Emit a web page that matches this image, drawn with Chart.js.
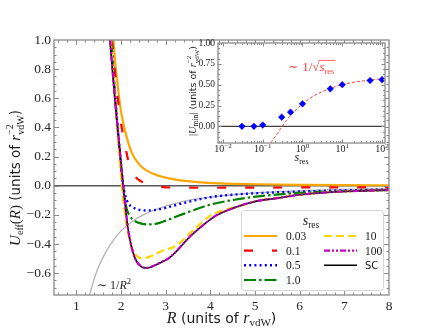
<!DOCTYPE html>
<html><head><meta charset="utf-8">
<script src="https://cdn.jsdelivr.net/npm/chart.js@4.4.0/dist/chart.umd.min.js"></script>
<style>
html,body{margin:0;padding:0;background:#fff;}
#wrap{position:relative;width:432px;height:332px;overflow:hidden;}
#main{position:absolute;left:0;top:0;}
#inset{position:absolute;left:180px;top:30px;}
</style></head><body>
<div id="wrap"><canvas id="main" width="432" height="332"></canvas><canvas id="inset" width="212" height="140"></canvas></div>
<script>
// ---------- main panel data (R in units of r_vdW, U_eff in units of r_vdW^-2) ----------
const rOrange = [1.83,1.87,1.93,1.98,2.05,2.13,2.25,2.4,2.5,2.6,2.75,2.9,3.25,3.7,4.2,5,6,7,8];
const uOrange = [1.0,0.85,0.68,0.55,0.43,0.33,0.22,0.15,0.12,0.1,0.078,0.063,0.04,0.025,0.016,0.01,0.006,0.004,0.003];
const rRed = [1.8,1.85,1.9,1.98,2.05,2.1,2.2,2.3,2.45,2.65,2.9,3.2,4,5,6,7,8];
const uRed = [1.0,0.83,0.68,0.47,0.34,0.26,0.13,0.07,0.03,0.005,-0.008,-0.013,-0.014,-0.013,-0.012,-0.011,-0.01];
const rBlue = [1.78,1.85,1.92,2.0,2.05,2.09,2.16,2.25,2.35,2.45,2.61,2.8,3.0,3.24,3.6,3.99,4.5,5,6,7,8];
const uBlue = [1.0,0.7,0.42,0.14,0.0,-0.063,-0.12,-0.145,-0.16,-0.167,-0.17,-0.165,-0.152,-0.132,-0.104,-0.079,-0.062,-0.052,-0.04,-0.032,-0.026];
const rGreen = [1.78,1.85,1.92,2.0,2.05,2.1,2.15,2.2,2.3,2.4,2.6,2.8,3.0,3.3,3.6,4.0,4.66,5.26,6,7,8];
const uGreen = [1.0,0.69,0.4,0.12,-0.02,-0.12,-0.18,-0.21,-0.24,-0.255,-0.265,-0.26,-0.24,-0.205,-0.17,-0.13,-0.09,-0.067,-0.049,-0.038,-0.031];
const rYellow = [1.77,1.85,1.93,2.0,2.05,2.1,2.16,2.25,2.35,2.45,2.55,2.7,2.9,3.24,3.6,4.0,4.3,4.6,5,5.5,6,6.75,7.5,8];
const uYellow = [1.0,0.66,0.33,0.06,-0.1,-0.22,-0.33,-0.43,-0.48,-0.497,-0.495,-0.48,-0.45,-0.41,-0.31,-0.205,-0.168,-0.145,-0.108,-0.084,-0.062,-0.043,-0.034,-0.029];
const rMagenta = [1.76,1.8,1.85,1.9,1.95,2.0,2.05,2.1,2.15,2.2,2.27,2.35,2.45,2.57,2.7,2.87,3.06,3.21,3.54,3.8,4.1,4.5,5,5.5,6,6.75,7.5,8];
const uMagenta = [1.0,0.83,0.65,0.48,0.32,0.16,0.0,-0.15,-0.28,-0.37,-0.46,-0.52,-0.553,-0.563,-0.553,-0.528,-0.498,-0.458,-0.35,-0.28,-0.21,-0.155,-0.108,-0.085,-0.062,-0.043,-0.034,-0.029];
const rSC = [1.75,1.8,1.85,1.9,1.95,2.0,2.05,2.1,2.15,2.2,2.27,2.35,2.45,2.57,2.7,2.87,3.06,3.21,3.54,3.8,4.1,4.5,5,5.5,6,6.75,7.5,8];
const uSC = [1.0,0.82,0.64,0.47,0.32,0.16,0.0,-0.15,-0.28,-0.37,-0.46,-0.52,-0.555,-0.565,-0.555,-0.53,-0.5,-0.46,-0.35,-0.28,-0.21,-0.155,-0.108,-0.085,-0.062,-0.043,-0.034,-0.029];
const rGray = [1.27,1.4,1.5,1.6,1.75,2.0,2.25,2.5,3.0,3.5,4.0,4.5,5,6,7,8];
const uGray = [-0.78,-0.64,-0.555,-0.49,-0.41,-0.31,-0.245,-0.2,-0.14,-0.1,-0.078,-0.062,-0.05,-0.035,-0.026,-0.02];
const legendLabels = ['0.03','0.1','0.5','1.0','10','100','SC'];
const xTicks = [1,2,3,4,5,6,7,8];
const yTicks = [-0.6,-0.4,-0.2,0,0.2,0.4,0.6,0.8,1.0];

// ---------- inset data ----------
const sRes = [0.03,0.06,0.1,0.3,0.5,1,5,10,50,100];
const uMin = [0.0,0.0,0.015,0.11,0.17,0.27,0.45,0.5,0.55,0.56];
const sFit = [0.16,0.2,0.25,0.3,0.4,0.5,0.7,1,2,3,5,10,20,50,100];
const uFit = [-0.2,-0.13,-0.065,-0.01,0.075,0.13,0.2,0.27,0.37,0.41,0.455,0.5,0.53,0.555,0.57];
const insetXTickExp = [-2,-1,0,1,2];
const insetYTicks = [0,0.25,0.5,0.75,1.0];

const SERIF = "'Liberation Serif','DejaVu Serif',serif";
const SANS = "'DejaVu Sans',sans-serif";
const F = (sz, st) => (st ? st + ' ' : '') + sz + 'px ' + SERIF;
const S = (sz) => sz + 'px ' + SANS;
const fmt = (v, d) => (v < 0 ? '\u2212' : '') + Math.abs(v).toFixed(d);
const pts = (xs, ys) => xs.map((x, i) => ({x: x, y: ys[i]}));

function drawRich(ctx, segs, x, y, align) {
  let w = 0;
  const ws = segs.map(s => { ctx.font = s.f; const m = ctx.measureText(s.t).width; if (!s.na) w += m; return m; });
  let cx = align === 'center' ? x - w / 2 : (align === 'right' ? x - w : x);
  ctx.textAlign = 'left'; ctx.textBaseline = 'alphabetic';
  segs.forEach((s, i) => { ctx.font = s.f; ctx.fillText(s.t, cx, y + (s.dy || 0)); if (!s.na) cx += ws[i]; });
  return w;
}

function drawFrameTicks(chart, xMaj, xMin, yMaj, yMin, LM, Lm) {
  const {ctx, chartArea: a, scales} = chart; const X = scales.x, Y = scales.y;
  ctx.save(); ctx.strokeStyle = '#8a8a8a'; ctx.lineWidth = 1; ctx.setLineDash([]);
  ctx.beginPath();
  const vx = (v, L) => { const p = Math.round(X.getPixelForValue(v)) + 0.5; if (p < a.left + 1 || p > a.right - 1) return;
    ctx.moveTo(p, a.bottom); ctx.lineTo(p, a.bottom - L); ctx.moveTo(p, a.top); ctx.lineTo(p, a.top + L); };
  const vy = (v, L) => { const p = Math.round(Y.getPixelForValue(v)) + 0.5; if (p < a.top + 1 || p > a.bottom - 1) return;
    ctx.moveTo(a.left, p); ctx.lineTo(a.left + L, p); ctx.moveTo(a.right, p); ctx.lineTo(a.right - L, p); };
  xMaj.forEach(v => vx(v, LM)); xMin.forEach(v => vx(v, Lm));
  yMaj.forEach(v => vy(v, LM)); yMin.forEach(v => vy(v, Lm));
  ctx.stroke();
  ctx.lineWidth = 1.3;
  ctx.strokeRect(a.left, a.top, a.right - a.left, a.bottom - a.top);
  ctx.restore();
}

// minor tick positions (axis decoration only)
const xMinorMain = []; for (let k = 3; k <= 40; k++) { if (k % 5 !== 0) xMinorMain.push(k * 0.2); }
const yMinorMain = []; for (let k = -15; k <= 20; k++) { if (k % 4 !== 0) yMinorMain.push(k * 0.05); }
const yMinorInset = []; for (let k = -3; k <= 16; k++) { if (k % 4 !== 0) yMinorInset.push(k * 0.0625); }
const xMinorInset = []; for (let e = -3; e <= 2; e++) for (let m = 2; m <= 9; m++) xMinorInset.push(m * Math.pow(10, e));

function ds(label, xs, ys, color, dash, width, order) {
  return {label: label, data: pts(xs, ys), borderColor: color, backgroundColor: color, borderDash: dash,
    borderWidth: width, pointRadius: 0, fill: false, cubicInterpolationMode: 'monotone', order: order, clip: 0,
    borderCapStyle: 'butt'};
}

const mainPlugin = {
  id: 'mainDeco',
  beforeDatasetsDraw(chart) {
    const {ctx, chartArea: a, scales: {y}} = chart;
    const p = y.getPixelForValue(0);
    ctx.save(); ctx.strokeStyle = '#595959'; ctx.lineWidth = 1.5;
    ctx.beginPath(); ctx.moveTo(a.left, p); ctx.lineTo(a.right, p); ctx.stroke(); ctx.restore();
  },
  afterDatasetsDraw(chart) {
    drawFrameTicks(chart, xTicks, xMinorMain, yTicks, yMinorMain, 5, 2.5);
  },
  afterDraw(chart) {
    const ctx = chart.ctx; const a = chart.chartArea;
    ctx.save(); ctx.fillStyle = '#1a1a1a';
    // x title
    drawRich(ctx, [
      {t: 'R', f: F(16, 'italic')}, {t: ' (units of ', f: S(14)}, {t: 'r', f: F(16, 'italic')},
      {t: 'vdW', f: F(11), dy: 3}, {t: ')', f: S(14)}], (a.left + a.right) / 2, 323, 'center');
    // y title
    ctx.save(); ctx.translate(20, 178); ctx.rotate(-Math.PI / 2);
    drawRich(ctx, [
      {t: 'U', f: F(15, 'italic')}, {t: 'eff', f: F(10), dy: 3}, {t: '(', f: F(15)}, {t: 'R', f: F(15, 'italic')},
      {t: ')', f: F(15)}, {t: ' (units of ', f: S(13.5)}, {t: 'r', f: F(15, 'italic')},
      {t: '\u22122', f: F(10), dy: -7, na: true}, {t: 'vdW', f: F(10), dy: 4}, {t: ')', f: S(13.5)}], 0, 0, 'center');
    ctx.restore();
    // 1/R^2 annotation
    drawRich(ctx, [{t: '\u223C 1/', f: F(12)}, {t: 'R', f: F(12, 'italic')}, {t: '2', f: F(8.5), dy: -5}], 97, 289, 'left');
    // legend
    const lx = 241, ly = 210, lw = 142, lh = 80;
    ctx.fillStyle = 'rgba(255,255,255,0.85)'; ctx.strokeStyle = '#d4d4d4'; ctx.lineWidth = 1;
    ctx.beginPath(); ctx.roundRect(lx + 0.5, ly + 0.5, lw, lh, 3); ctx.fill(); ctx.stroke();
    ctx.fillStyle = '#1a1a1a';
    drawRich(ctx, [{t: 's', f: F(14, 'italic')}, {t: 'res', f: F(9.5), dy: 3}], 311, 225, 'center');
    const rows = [236, 250.7, 265.3, 280];
    const byLabel = {}; chart.data.datasets.forEach(d => byLabel[d.label] = d);
    legendLabels.forEach((lab, i) => {
      const col = i < 4 ? 0 : 1; const row = i < 4 ? i : i - 4;
      const x0 = col ? 324 : 244, x1 = col ? 357 : 277, tx = col ? 365 : 286; const yy = rows[row];
      const d = byLabel[lab];
      ctx.save(); ctx.strokeStyle = d.borderColor; ctx.lineWidth = d.borderWidth; ctx.setLineDash(d.borderDash || []);
      ctx.beginPath(); ctx.moveTo(x0, yy); ctx.lineTo(x1, yy); ctx.stroke(); ctx.restore();
      ctx.fillStyle = '#1a1a1a'; ctx.textBaseline = 'middle'; ctx.textAlign = 'left';
      ctx.font = lab === 'SC' ? S(10) : F(11.5);
      ctx.fillText(lab, tx, yy + 1);
    });
    ctx.restore();
  }
};

new Chart(document.getElementById('main'), {
  type: 'line',
  data: {datasets: [
    ds('', rGray, uGray, '#b4b4b4', [], 1.3, 9),
    ds('0.03', rOrange, uOrange, '#FFA500', [], 2.2, 8),
    ds('0.1', rRed, uRed, '#FF0000', [9, 19], 2.2, 7),
    ds('0.5', rBlue, uBlue, '#0000FF', [2, 3.2], 2.4, 6),
    ds('1.0', rGreen, uGreen, '#008000', [12, 3, 2.5, 3], 2.2, 5),
    ds('10', rYellow, uYellow, '#FFD700', [8, 4], 2.2, 4),
    ds('SC', rSC, uSC, '#000000', [], 1.6, 3),
    ds('100', rMagenta, uMagenta, '#BF00BF', [6, 2, 2, 2, 2, 2], 2.2, 2)
  ]},
  options: {
    responsive: false, animation: false, devicePixelRatio: 1,
    layout: {padding: {left: 0, right: 43, top: 40, bottom: 0}},
    plugins: {legend: {display: false}, tooltip: {enabled: false}},
    scales: {
      x: {type: 'linear', min: 0.5, max: 8,
        afterBuildTicks: s => { s.ticks = xTicks.map(v => ({value: v})); },
        afterFit: s => { s.height = 37; },
        grid: {display: false, drawTicks: false}, border: {display: false},
        ticks: {padding: 3, color: '#262626', font: {family: SERIF, size: 13.5}, maxRotation: 0, autoSkip: false,
          callback: v => String(v)}},
      y: {type: 'linear', min: -0.75, max: 1.0,
        afterBuildTicks: s => { s.ticks = yTicks.map(v => ({value: v})); },
        afterFit: s => { s.width = 54; },
        grid: {display: false, drawTicks: false}, border: {display: false},
        ticks: {padding: 3, color: '#262626', font: {family: SERIF, size: 13.5}, autoSkip: false,
          callback: v => fmt(v, 1)}}
    }
  },
  plugins: [mainPlugin]
});

// ---------- inset ----------
const insetPlugin = {
  id: 'insetDeco',
  beforeDraw(chart) {
    const {ctx, chartArea: a} = chart;
    ctx.save(); ctx.fillStyle = '#ffffff'; ctx.fillRect(a.left, a.top, a.right - a.left, a.bottom - a.top); ctx.restore();
  },
  beforeDatasetsDraw(chart) {
    const {ctx, chartArea: a, scales: {y}} = chart;
    const p = y.getPixelForValue(0);
    ctx.save(); ctx.strokeStyle = '#404040'; ctx.lineWidth = 1.4;
    ctx.beginPath(); ctx.moveTo(a.left, p); ctx.lineTo(a.right, p); ctx.stroke(); ctx.restore();
  },
  afterDatasetsDraw(chart) {
    drawFrameTicks(chart, insetXTickExp.map(e => Math.pow(10, e)), xMinorInset, insetYTicks, yMinorInset, 3.5, 2);
  },
  afterDraw(chart) {
    const {ctx, chartArea: a, scales: {x}} = chart;
    ctx.save(); ctx.fillStyle = '#262626';
    insetXTickExp.forEach(e => {
      const p = x.getPixelForValue(Math.pow(10, e));
      drawRich(ctx, [{t: '10', f: F(10)}, {t: fmt(e, 0), f: F(7), dy: -4}], p, a.bottom + 9, 'center');
    });
    ctx.fillStyle = '#1a1a1a';
    drawRich(ctx, [{t: 's', f: F(12, 'italic')}, {t: 'res', f: F(8), dy: 2.5}], (a.left + a.right) / 2, 131, 'center');
    ctx.save(); ctx.translate(16, 61); ctx.rotate(-Math.PI / 2);
    drawRich(ctx, [
      {t: '|', f: F(10.5)}, {t: 'U', f: F(10.5, 'italic')}, {t: 'min', f: F(7.5), dy: 2}, {t: '|', f: F(10.5)},
      {t: ' (units of ', f: S(9.5)}, {t: 'r', f: F(10.5, 'italic')},
      {t: '\u22122', f: F(7), dy: -5, na: true}, {t: 'vdW', f: F(7), dy: 3}, {t: ')', f: S(9.5)}], 0, 0, 'center');
    ctx.restore();
    // ~ 1/sqrt(s_res)
    ctx.fillStyle = '#ff4040'; ctx.strokeStyle = '#ff4040';
    let cx = 108; const by = 41;
    ctx.font = F(13); ctx.textAlign = 'left'; ctx.textBaseline = 'alphabetic';
    ctx.fillText('\u223C 1/', cx, by); cx += ctx.measureText('\u223C 1/').width;
    ctx.fillText('\u221A', cx, by); cx += ctx.measureText('\u221A').width;
    const sx = cx;
    ctx.font = F(13, 'italic'); ctx.fillText('s', cx, by); cx += ctx.measureText('s').width;
    ctx.font = F(8.5); ctx.fillText('res', cx, by + 2.5); cx += ctx.measureText('res').width;
    ctx.lineWidth = 0.8; ctx.beginPath(); ctx.moveTo(sx - 0.5, by - 10.5); ctx.lineTo(cx + 1, by - 10.5); ctx.stroke();
    ctx.restore();
  }
};

new Chart(document.getElementById('inset'), {
  type: 'scatter',
  data: {datasets: [
    {label: 'points', data: pts(sRes, uMin), pointStyle: 'rectRot', pointRadius: 3.3, backgroundColor: '#0000FF',
      borderColor: '#0000FF', borderWidth: 0.5, showLine: false, order: 1},
    {label: 'fit', data: pts(sFit, uFit), showLine: true, pointRadius: 0, borderColor: '#ff4040', borderWidth: 1,
      borderDash: [3, 2], cubicInterpolationMode: 'monotone', fill: false, order: 2, clip: 0}
  ]},
  options: {
    responsive: false, animation: false, devicePixelRatio: 1,
    layout: {padding: {left: 0, right: 7, top: 13, bottom: 0}},
    plugins: {legend: {display: false}, tooltip: {enabled: false}},
    scales: {
      x: {type: 'logarithmic', min: Math.pow(10, -2.125), max: Math.pow(10, 2.075),
        afterBuildTicks: s => { s.ticks = insetXTickExp.map(e => ({value: Math.pow(10, e)})); },
        afterFit: s => { s.height = 27; },
        grid: {display: false, drawTicks: false}, border: {display: false}, ticks: {display: false}},
      y: {type: 'linear', min: -0.2, max: 1.0,
        afterBuildTicks: s => { s.ticks = insetYTicks.map(v => ({value: v})); },
        afterFit: s => { s.width = 38; },
        grid: {display: false, drawTicks: false}, border: {display: false},
        ticks: {padding: 3, color: '#262626', font: {family: SERIF, size: 9.5}, autoSkip: false, callback: v => fmt(v, 2)}}
    }
  },
  plugins: [insetPlugin]
});
</script>
</body></html>
